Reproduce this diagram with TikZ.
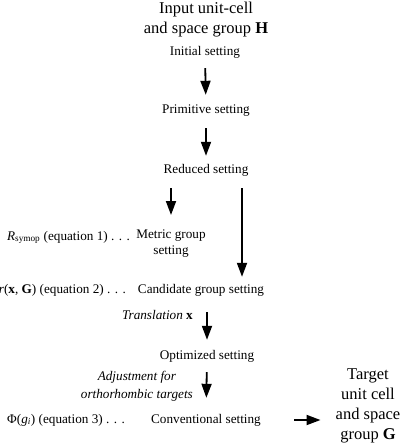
\documentclass[tikz,border=0pt]{standalone}
\usepackage{fontspec}
\setmainfont{Liberation Serif}
\usetikzlibrary{arrows.meta}

\begin{document}
\begin{tikzpicture}[x=1pt,y=-1pt,
	flow/.style={line width=1.8pt,-{Triangle[length=14pt,width=10pt]}},
	lbl/.style={inner sep=0pt,font=\fontsize{13.2}{16}\selectfont},
	one/.style={lbl,text height=9pt,text depth=3pt},
	big/.style={inner sep=0pt,align=center,font=\fontsize{16.5}{20}\selectfont}]
	\useasboundingbox (0,0) rectangle (401,443);
	\node[big] (input) at (206,19.5) {Input unit-cell\\and space group \textbf{H}};
	\node[one] (init) at (205,53) {Initial setting};
	\node[one] (prim) at (206,111) {Primitive setting};
	\node[one] (red) at (206,171) {Reduced setting};
	\node[lbl,align=center] (metric) at (171,244) {Metric group\\setting};
	\node[one,anchor=east] (symop) at (130,237) {\textit{R}\textsubscript{symop} (equation 1) . . .};
	\node[one] (cand) at (201,290) {Candidate group setting};
	\node[one,anchor=east] (resid) at (126,290) {\textit{r}(\textbf{x}, \textbf{G}) (equation 2) . . .};
	\node[one,anchor=east] (trans) at (193,316) {\textit{Translation} \textbf{x}};
	\node[one] (opt) at (207,356) {Optimized setting};
	\node[lbl,align=center,anchor=east,font=\fontsize{13.2}{18}\selectfont\itshape] (adjust) at (193,386) {Adjustment for\\orthorhombic targets};
	\node[one] (conv) at (206,420) {Conventional setting};
	\node[one,anchor=east] (phi) at (125,420) {Φ(\textit{g}\textsubscript{\textit{i}}) (equation 3) . . .};
	\node[big] (target) at (368,406) {Target\\unit cell\\and space\\group \textbf{G}};
	\coordinate (lng) at (242,0);
	\draw[flow,shorten <=9pt,shorten >=10pt] (init) -- (prim);
	\draw[flow,shorten <=11pt,shorten >=9pt] (prim) -- (red);
	\draw[flow,shorten <=11pt,shorten >=15pt] (red.south -| metric) -- (metric.north);
	\draw[flow,shorten <=11pt,shorten >=7pt] (red.south -| lng) -- (cand.north -| lng);
	\draw[flow,shorten <=16pt,shorten >=10pt] (cand.south -| opt) -- (opt.north);
	\draw[flow,shorten <=10pt,shorten >=16pt] (opt) -- (conv);
	\draw[flow,shorten <=33pt,shorten >=15pt] (conv.east) -- (conv.east -| target.west);
\end{tikzpicture}
\end{document}
